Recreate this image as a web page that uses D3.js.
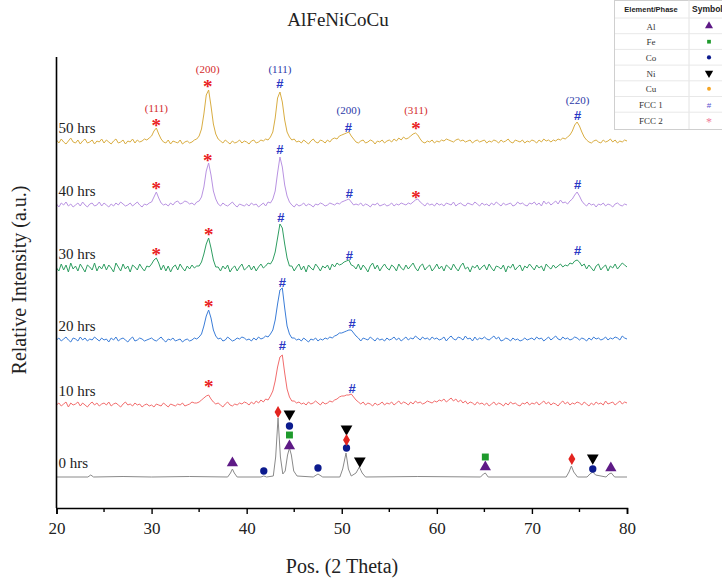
<!DOCTYPE html>
<html>
<head>
<meta charset="utf-8">
<script src="https://cdn.jsdelivr.net/npm/d3@7"></script>
<style>
  html, body { margin: 0; padding: 0; background: #fff; }
  svg { display: block; }
</style>
</head>
<body>
<div id="chart"></div>
<script>
// XRD patterns, AlFeNiCoCu after milling

// intensity above each pattern's own baseline, 2θ = 20..80 step 0.25
const hrs50 = [
  2,-1,3,0,-2,1,4,0,-1,2,-2,1,3,-1,0,2,-2,1,0,3,
  -1,2,0,-2,1,3,-1,0,2,-2,1,0,3,-1,2,0,1,3,2,4,
  6,11,14,8,3,0,-1,2,-2,1,0,-1,2,-2,0,1,-1,0,2,3,
  6,13,28,47,52,36,18,8,3,1,-1,2,0,-2,1,-1,0,2,-1,1,
  0,-2,1,2,-1,0,2,1,3,2,5,10,24,44,50,40,22,10,5,2,
  3,0,1,-1,2,0,-2,1,3,0,-1,2,1,-1,2,0,3,4,3,6,
  7,8,9,10,6,3,0,-1,1,2,-1,0,2,1,-2,1,0,2,-1,1,
  2,0,3,1,4,2,5,3,4,6,8,9,7,3,0,-1,1,0,2,-1,
  1,0,2,1,3,2,1,0,2,3,1,2,0,1,2,-1,1,2,0,1,
  2,-1,1,0,2,1,-1,2,0,1,3,0,-1,2,1,0,2,-1,1,0,
  2,1,-1,2,0,3,1,2,0,2,1,3,2,4,3,5,7,11,17,20,
  16,10,5,2,0,-1,1,2,0,-1,2,0,1,3,0,2,-1,1,0,2,
  1
];
const hrs40 = [
  1,-2,2,0,3,-1,1,-2,0,2,-1,3,0,-2,1,2,-1,0,3,-1,
  2,0,-2,1,-1,2,0,3,1,-1,0,2,-1,1,3,0,-2,1,0,2,
  3,8,13,7,2,0,1,-1,2,0,3,4,1,2,4,3,1,2,0,3,
  4,8,18,34,42,30,14,6,1,-1,2,0,-1,1,3,0,-2,1,0,-1,
  1,-1,2,0,1,-2,0,2,-1,3,2,6,14,32,48,38,20,9,3,0,
  -2,1,-1,0,2,-1,1,0,-2,1,0,2,1,-1,0,2,1,0,2,1,
  3,4,5,6,3,0,1,0,2,-1,1,0,-2,1,0,2,-1,0,1,-1,
  0,2,-1,1,0,2,1,0,2,1,3,5,6,3,1,-1,2,0,1,-1,
  2,0,1,-1,2,1,0,3,-1,1,2,0,-1,2,1,0,3,1,-1,2,
  0,1,-1,2,0,3,1,-1,2,0,1,2,-1,0,3,1,2,0,-1,2,
  1,3,0,2,-1,4,1,3,0,2,4,1,5,2,3,1,4,6,10,13,
  9,4,1,-1,2,0,1,-2,1,0,2,-1,1,0,-2,1,2,0,-1,1,
  0
];
const hrs30 = [
  0,-3,4,-2,3,-4,5,-1,2,-3,4,0,-4,3,1,-2,5,-3,2,-1,
  4,-2,3,0,-4,5,1,-3,4,-1,2,-4,3,1,-2,4,0,-3,2,1,
  4,8,10,5,-2,3,-3,2,-4,1,3,-2,4,0,-3,2,-1,3,0,2,
  2,6,14,24,30,20,8,1,1,-3,2,-1,3,-4,0,2,-3,1,4,-2,
  0,3,-2,2,-3,1,4,0,2,5,4,8,16,30,44,40,24,10,2,2,
  -3,1,4,-2,2,-4,3,0,-2,4,1,-3,2,0,3,-2,4,1,5,3,
  4,6,7,8,3,2,-1,4,-2,3,0,-4,2,5,-1,3,-3,1,4,0,
  -2,3,1,-3,4,0,-2,3,-1,2,5,0,-3,2,4,-2,1,3,-3,0,
  4,-1,2,-3,3,1,-2,4,0,-3,2,5,-1,1,-4,2,0,3,-2,1,
  3,-2,4,0,-3,2,1,-1,3,-4,2,0,4,-2,1,3,-3,2,0,4,
  1,-2,3,0,2,-3,4,1,-1,3,0,2,4,1,3,2,5,4,7,8,
  6,2,4,-1,3,0,-3,2,4,-2,1,3,-3,2,0,4,-1,2,5,3,
  1
];
const hrs20 = [
  0,2,-1,1,3,0,-2,2,1,-1,3,0,2,-1,1,0,3,1,-1,2,
  0,1,-2,2,0,3,-1,1,2,0,-2,1,3,-1,0,2,1,-1,0,1,
  2,0,-1,1,3,0,-2,1,0,2,-1,0,1,-2,0,1,-1,0,2,1,
  3,6,14,24,30,22,10,4,1,2,-1,0,3,1,-1,0,2,1,3,2,
  0,1,-1,2,0,3,1,2,4,3,6,10,20,36,50,52,32,14,6,2,
  2,0,1,-1,2,0,-2,1,0,2,-1,1,0,2,1,3,2,4,5,7,
  7,8,9,10,10,7,4,2,-1,2,1,0,3,1,-1,2,0,1,-1,2,
  0,1,3,0,2,-1,1,3,0,2,1,4,2,0,3,1,2,0,3,1,
  2,0,1,3,-1,2,4,1,0,3,2,0,4,1,2,-1,3,0,2,1,
  3,1,0,2,4,1,3,-1,0,2,1,-1,2,0,1,-1,0,2,0,1,
  2,0,3,1,2,-1,1,3,0,2,4,1,0,3,1,2,0,1,3,2,
  0,2,1,-1,2,0,3,1,2,0,1,3,0,2,1,3,2,0,4,2,
  1
];
const hrs10 = [
  0,2,-1,1,3,-2,2,0,1,3,-1,2,0,-2,1,3,0,2,-1,1,
  2,0,3,-1,1,2,0,-2,1,3,0,1,-1,2,0,1,-2,0,1,-1,
  0,-2,1,0,-1,2,0,-2,1,0,-1,1,0,2,-1,0,1,3,2,2,
  3,5,7,9,10,6,3,1,2,0,-2,1,3,0,-1,1,0,2,1,3,
  2,0,3,1,4,2,5,3,6,5,9,14,24,38,48,50,32,16,8,4,
  4,2,3,1,2,0,3,1,2,4,2,0,3,1,2,4,3,5,6,8,
  9,9,10,10,11,8,5,3,1,3,0,2,1,-1,2,0,1,3,0,2,
  1,3,0,2,4,1,3,2,0,3,1,4,2,3,1,2,4,3,2,4,
  3,5,4,6,3,5,7,4,6,3,5,2,4,1,3,2,0,3,1,2,
  0,2,-1,1,3,0,2,1,-1,2,0,3,1,2,0,-1,2,1,3,0,
  2,1,3,0,2,4,1,3,0,2,1,-1,2,4,1,3,0,2,1,3,
  2,0,3,1,-1,2,0,3,1,2,0,4,1,2,3,0,2,4,1,3,
  2
];
// as-received powder: [2θ, intensity]
const hrs0 = [
  [20,0],[23.3,0],[23.6,2],[23.9,0],[27,0.5],[30,0],[34,0.5],[38.0,0],[38.3,4],[38.5,8],[38.7,4],
  [39.0,0],[41.5,0],[41.8,1],[42.1,0],[42.8,1],[43.05,20],[43.3,59],[43.55,20],[43.8,3],[44.05,6],
  [44.3,22],[44.5,29],[44.7,22],[44.95,6],[45.3,1],[47.0,0],[47.5,3],[48.0,0],[49.8,0],[50.1,8],
  [50.45,24],[50.7,8],[51.0,1],[51.5,4],[51.85,10],[52.15,4],[52.5,0],[58,0.5],[64.6,0],[64.9,3],
  [65.1,4],[65.4,0],[73.6,0],[73.9,5],[74.15,11],[74.4,5],[74.8,0],[75.8,0],[76.1,3],[76.4,5],
  [76.7,2],[77.8,0],[78.1,3],[78.35,4],[78.7,0],[80,0]
];

const seriesNames = ["0 hrs", "10 hrs", "20 hrs", "30 hrs", "40 hrs", "50 hrs"];
const seriesOffset = [31, 103, 168, 240, 303, 366];
const seriesColors = ["#8a8a8a", "#f26d6d", "#3b7dd8", "#2f9e62", "#b993e2", "#d9ad42"];

// phase markers: [2θ, level]
const alMarks = [[38.5, 45], [44.5, 62], [65.1, 41], [78.3, 40]];
const feMarks = [[44.5, 73], [65.1, 51]];
const coMarks = [[41.8, 37], [44.5, 82], [47.5, 40], [50.5, 60], [76.4, 39]];
const niMarks = [[44.5, 94], [50.5, 79], [51.9, 47], [76.4, 50]];
const cuMarks = [[43.3, 96], [50.5, 68], [74.2, 49]];
const fcc1Marks = [[43.5, 425], [50.7, 381], [74.8, 393], [43.5, 359], [50.8, 315], [74.8, 324],
  [43.6, 291], [50.8, 253], [74.8, 258], [43.75, 226], [51.1, 185], [43.75, 163], [51.1, 120]];
const fcc2Marks = [[30.5, 386], [35.9, 425], [57.8, 383], [30.5, 323], [35.9, 351], [57.8, 314],
  [30.5, 257], [36.0, 277], [36.0, 205], [36.0, 125]];
// hkl labels over the 50 hrs pattern: [2θ, level, text, phase]
const hklLabels = [[30.5, 397, "(111)", 2], [35.9, 436, "(200)", 2], [43.5, 436, "(111)", 1],
  [50.7, 395, "(200)", 1], [57.8, 395, "(311)", 2], [74.8, 405, "(220)", 1]];

const legendNames = ["Al", "Fe", "Co", "Ni", "Cu", "FCC 1", "FCC 2"];
const xTicks = [20, 30, 40, 50, 60, 70, 80];
const xMinor = [25, 35, 45, 55, 65, 75];

const twoTheta = d3.range(hrs50.length).map(i => 20 + i * 0.25);

const width = 722, height = 578;
const serif = "'Liberation Serif', 'Times New Roman', serif";
const sans = "'Liberation Sans', Arial, sans-serif";

const svg = d3.select("#chart").append("svg")
  .attr("width", width).attr("height", height)
  .attr("viewBox", [0, 0, width, height]);

svg.append("rect").attr("width", width).attr("height", height).attr("fill", "#fff");

const x = d3.scaleLinear().domain([20, 80]).range([56.5, 627]);
const y = d3.scaleLinear().domain([0, 451]).range([508, 57]);

// patterns
const noisy = [hrs10, hrs20, hrs30, hrs40, hrs50];
const line = d3.line().x(d => x(d[0])).y(d => y(d[1]));

svg.append("path")
  .attr("d", line(hrs0.map(d => [d[0], d[1] + seriesOffset[0]])))
  .attr("fill", "none").attr("stroke", seriesColors[0]).attr("stroke-width", 1);

noisy.forEach((vals, k) => {
  const pts = vals.map((v, i) => [twoTheta[i], v + seriesOffset[k + 1]]);
  svg.append("path")
    .attr("d", line(pts))
    .attr("fill", "none")
    .attr("stroke", seriesColors[k + 1])
    .attr("stroke-width", 1)
    .attr("stroke-linejoin", "round");
});

// series labels
seriesNames.forEach((name, k) => {
  svg.append("text")
    .attr("x", x(20) + 2)
    .attr("y", y(seriesOffset[k]) - 9)
    .attr("font-family", serif).attr("font-size", 15).attr("fill", "#222")
    .text(name);
});

// element markers on 0 hrs
const sym = (type, size) => d3.symbol().type(type).size(size)();
function drawMarks(data, type, size, color, rotate) {
  svg.append("g").selectAll("path").data(data).join("path")
    .attr("d", sym(type, size))
    .attr("transform", d => `translate(${x(d[0])},${y(d[1])})` + (rotate ? " rotate(180)" : ""))
    .attr("fill", color);
}
drawMarks(alMarks, d3.symbolTriangle, 55, "#5e1a86");
drawMarks(feMarks, d3.symbolSquare, 48, "#1e9a2c");
drawMarks(coMarks, d3.symbolCircle, 42, "#0c1b8e");
drawMarks(niMarks, d3.symbolTriangle, 60, "#000", true);
drawMarks(cuMarks, d3.symbolDiamond, 42, "#e3241f");

// FCC phase symbols
svg.append("g").selectAll("text").data(fcc1Marks).join("text")
  .attr("x", d => x(d[0])).attr("y", d => y(d[1]) + 4.6)
  .attr("text-anchor", "middle")
  .attr("font-family", sans).attr("font-size", 13).attr("font-weight", "bold")
  .attr("fill", "#2a37c4").text("#");

svg.append("g").selectAll("text").data(fcc2Marks).join("text")
  .attr("x", d => x(d[0])).attr("y", d => y(d[1]) + 10)
  .attr("text-anchor", "middle")
  .attr("font-family", serif).attr("font-size", 19).attr("font-weight", "bold")
  .attr("fill", "#ea1c22").text("*");

svg.append("g").selectAll("text").data(hklLabels).join("text")
  .attr("x", d => x(d[0])).attr("y", d => y(d[1]) + 1)
  .attr("text-anchor", "middle")
  .attr("font-family", serif).attr("font-size", 11)
  .attr("fill", d => d[3] === 1 ? "#2c3aa8" : "#d42a2a")
  .text(d => d[2]);

// axes
const xAxis = svg.append("g").attr("transform", `translate(0,${y(0)})`)
  .call(d3.axisBottom(x).tickValues(xTicks).tickSize(6).tickPadding(8).tickFormat(d3.format("d")));
xAxis.select(".domain").attr("stroke-width", 1.6);
xAxis.selectAll(".tick line").attr("stroke-width", 1.4);
xAxis.selectAll("text").attr("font-family", serif).attr("font-size", 17).attr("fill", "#222");

svg.append("g").selectAll("line").data(xMinor).join("line")
  .attr("x1", d => x(d)).attr("x2", d => x(d))
  .attr("y1", y(0)).attr("y2", y(0) + 4)
  .attr("stroke", "#000").attr("stroke-width", 1.4);

svg.append("line")
  .attr("x1", x(20)).attr("x2", x(20))
  .attr("y1", y(0)).attr("y2", y(451))
  .attr("stroke", "#000").attr("stroke-width", 1.6);

// titles
svg.append("text").attr("x", 338).attr("y", 26).attr("text-anchor", "middle")
  .attr("font-family", serif).attr("font-size", 19).attr("fill", "#222").text("AlFeNiCoCu");

svg.append("text").attr("x", 342).attr("y", 573).attr("text-anchor", "middle")
  .attr("font-family", serif).attr("font-size", 20).attr("fill", "#222").text("Pos. (2 Theta)");

svg.append("text").attr("transform", "translate(26,280) rotate(-90)").attr("text-anchor", "middle")
  .attr("font-family", serif).attr("font-size", 20).attr("fill", "#222")
  .text("Relative Intensity (a.u.)");

// legend table (cut off at the right edge)
const lg = svg.append("g").attr("transform", "translate(614,0)");
const rowH = 15.7;
lg.append("rect").attr("x", 0.5).attr("y", 0.5).attr("width", 120).attr("height", 129)
  .attr("fill", "#fff").attr("stroke", "#cfcfcf");
lg.append("line").attr("x1", 75).attr("x2", 75).attr("y1", 0).attr("y2", 129).attr("stroke", "#e2e2e2");
lg.selectAll(".row").data(legendNames).join("line")
  .attr("x1", 1).attr("x2", 120)
  .attr("y1", (d, i) => 18 + i * rowH).attr("y2", (d, i) => 18 + i * rowH)
  .attr("stroke", "#e8e8e8");
lg.append("text").attr("x", 37).attr("y", 12).attr("text-anchor", "middle")
  .attr("font-family", sans).attr("font-size", 7.5).attr("font-weight", "bold").attr("fill", "#222")
  .text("Element/Phase");
lg.append("text").attr("x", 78).attr("y", 12)
  .attr("font-family", sans).attr("font-size", 8.5).attr("font-weight", "bold").attr("fill", "#222")
  .text("Symbol");
lg.selectAll(".name").data(legendNames).join("text")
  .attr("x", 37).attr("y", (d, i) => 29.5 + i * rowH).attr("text-anchor", "middle")
  .attr("font-family", serif).attr("font-size", 9).attr("fill", "#333")
  .text(d => d);

const legendSyms = [
  [d3.symbolTriangle, 28, "#5e1a86", false],
  [d3.symbolSquare, 14, "#1e9a2c", false],
  [d3.symbolCircle, 14, "#0c1b8e", false],
  [d3.symbolTriangle, 30, "#000", true],
  [d3.symbolCircle, 12, "#f5a524", false]
];
legendSyms.forEach((s, i) => {
  lg.append("path").attr("d", sym(s[0], s[1]))
    .attr("transform", `translate(95,${26 + i * rowH})` + (s[3] ? " rotate(180)" : ""))
    .attr("fill", s[2]);
});
lg.append("text").attr("x", 95).attr("y", 26 + 5 * rowH + 3).attr("text-anchor", "middle")
  .attr("font-family", sans).attr("font-size", 8).attr("fill", "#5a4fd0").text("#");
lg.append("text").attr("x", 95).attr("y", 26 + 6 * rowH + 6).attr("text-anchor", "middle")
  .attr("font-family", serif).attr("font-size", 12).attr("fill", "#f07a9a").text("*");
</script>
</body>
</html>
